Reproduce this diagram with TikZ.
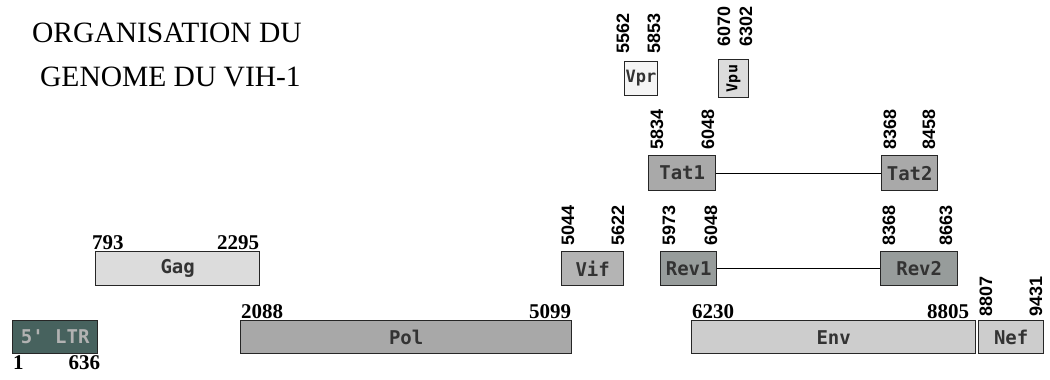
\documentclass[tikz,border=0pt]{standalone}
\usepackage{fontspec}
\setmainfont{Liberation Serif}
\newfontfamily\genefont{DejaVu Sans Mono}
\newfontfamily\posfont{Liberation Sans}
\usepackage{xcolor}
\usepackage{tikz}
\usetikzlibrary{positioning}

\definecolor{ltrcol}{HTML}{47625E}
\definecolor{gagcol}{HTML}{DCDCDC}
\definecolor{polcol}{HTML}{A8A8A8}
\definecolor{vifcol}{HTML}{B4B4B4}
\definecolor{revcol}{HTML}{979C9B}
\definecolor{tatcol}{HTML}{A9A9A9}
\definecolor{envcol}{HTML}{CDCDCD}

\begin{document}
\begin{tikzpicture}[x=1pt,y=-1pt,
  gene/.style={draw=black!85,line width=1.4pt,anchor=north west,inner sep=0pt,
    font=\genefont\bfseries\fontsize{19}{19}\selectfont,text=black!80},
  numlbl/.style={inner sep=1pt,font=\bfseries\fontsize{21}{21}\selectfont},
  vnumlbl/.style={rotate=90,anchor=west,inner sep=0pt,font=\posfont\bfseries\fontsize{18}{18}\selectfont},
  title/.style={anchor=west,inner sep=0pt,font=\fontsize{29.5}{29.5}\selectfont}]
\useasboundingbox (0,0) rectangle (1050,380);

% titre
\node[title] (t1) at (32,33) {ORGANISATION DU};
\node[title] (t2) at (40,77) {GENOME DU VIH-1};

% ligne du bas
\node[gene,fill=ltrcol,minimum width=85,minimum height=33,text=gray!60] (ltr) at (12,320) {5' LTR};
\node[gene,fill=polcol,minimum width=331,minimum height=33] (pol) at (240,320) {Pol};
\node[gene,fill=envcol,minimum width=284,minimum height=33] (env) at (691,320) {Env};
\node[gene,fill=envcol,minimum width=65,minimum height=33] (nef) at (978,320) {Nef};
\node[numlbl,anchor=north west] (p1) at (ltr.south west) {1};
\node[numlbl,anchor=north east] (p636) at ([xshift=3]ltr.south east) {636};
\node[numlbl,anchor=south west] (p2088) at (pol.north west) {2088};
\node[numlbl,anchor=south east] (p5099) at (pol.north east) {5099};
\node[numlbl,anchor=south west] (p6230) at (env.north west) {6230};
\node[numlbl,anchor=south east] (p8805) at ([xshift=-6]env.north east) {8805};
\node[vnumlbl] (p8807) at (986,317) {8807};
\node[vnumlbl] (p9431) at (1036,317) {9431};

% ligne du milieu
\node[gene,fill=gagcol,minimum width=164,minimum height=34] (gag) at (95,251) {Gag};
\node[gene,fill=vifcol,minimum width=62,minimum height=34] (vif) at (561,251) {Vif};
\node[gene,fill=revcol,minimum width=56,minimum height=34] (rev1) at (660,251) {Rev1};
\node[gene,fill=revcol,minimum width=77,minimum height=34] (rev2) at (880,251) {Rev2};
\draw[line width=0.8pt] (rev1) -- (rev2);
\node[numlbl,anchor=south west] (p793) at ([xshift=-4]gag.north west) {793};
\node[numlbl,anchor=south east] (p2295) at (gag.north east) {2295};
\node[vnumlbl] (p5044) at (568,246) {5044};
\node[vnumlbl] (p5622) at (618,246) {5622};
\node[vnumlbl] (p5973) at (669,246) {5973};
\node[vnumlbl] (p6048a) at (711,246) {6048};
\node[vnumlbl] (p8368a) at (889,246) {8368};
\node[vnumlbl] (p8663) at (946,246) {8663};

% Tat
\node[gene,fill=tatcol,minimum width=67,minimum height=35] (tat1) at (648,155) {Tat1};
\node[gene,fill=tatcol,minimum width=56,minimum height=35] (tat2) at (881,155) {Tat2};
\draw[line width=0.8pt] (tat1) -- (tat2);
\node[vnumlbl] (p5834) at (657,150) {5834};
\node[vnumlbl] (p6048b) at (708,150) {6048};
\node[vnumlbl] (p8368b) at (890,150) {8368};
\node[vnumlbl] (p8458) at (929,150) {8458};

% Vpr et Vpu
\node[gene,fill=white!92!gray,minimum width=33,minimum height=34,line width=1pt,
  font=\genefont\bfseries\fontsize{17}{17}\selectfont] (vpr) at (624,61) {Vpr};
\node[gene,fill=gagcol,minimum width=30,minimum height=38,line width=1pt] (vpu) at (718,59) {};
\node[rotate=90,inner sep=0pt,font=\genefont\bfseries\fontsize{15}{15}\selectfont] (vputxt) at (vpu.center) {Vpu};
\node[vnumlbl] (p5562) at (623,54) {5562};
\node[vnumlbl] (p5853) at (654,54) {5853};
\node[vnumlbl] (p6070) at (724,47) {6070};
\node[vnumlbl] (p6302) at (746,47) {6302};
\end{tikzpicture}
\end{document}
